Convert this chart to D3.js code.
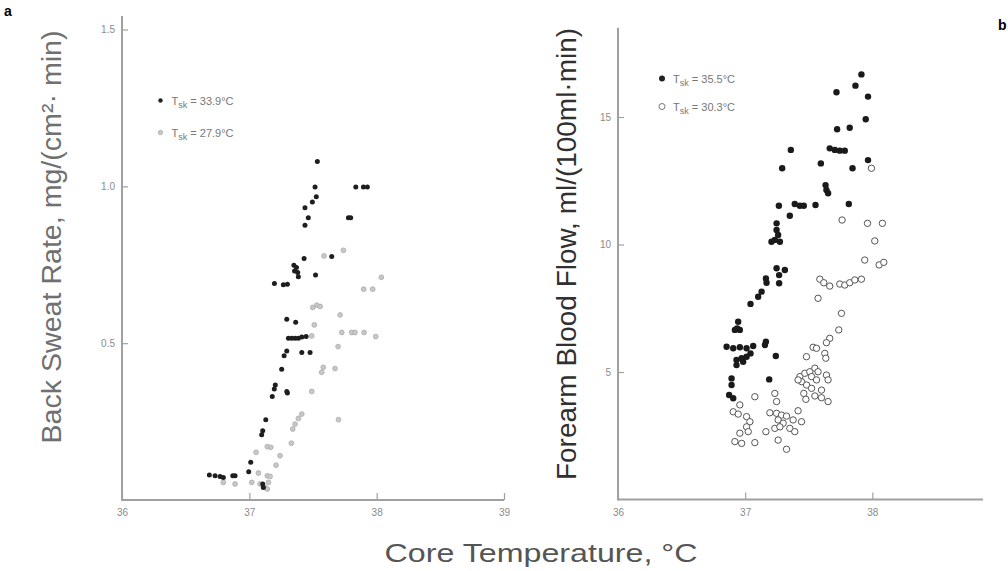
<!DOCTYPE html>
<html><head><meta charset="utf-8">
<script src="https://cdn.jsdelivr.net/npm/d3@7"></script>
<style>body{margin:0;background:#fff}svg{display:block}</style>
</head><body>
<svg id="c" width="1008" height="571"></svg>
<script>
// Panel a: back sweat rate vs core temperature
const aTicksX = [36, 37, 38, 39];
const aTicksY = [0.5, 1.0, 1.5];
const aTickLabelsY = ["0.5", "1.0", "1.5"];
const aLegend = ["33.9°C", "27.9°C"];
// T_sk = 33.9°C (filled black)  [core temp, sweat rate]
const aHot = [
 [37.534,1.079],[37.516,0.998],[37.836,0.998],[37.896,0.998],[37.927,0.998],[37.526,0.967],[37.495,0.95],
 [37.437,0.932],[37.463,0.90],[37.778,0.90],[37.796,0.90],[37.437,0.876],[37.43,0.77],[37.647,0.776],
 [37.35,0.748],[37.37,0.741],[37.355,0.730],[37.38,0.725],[37.385,0.712],[37.52,0.717],
 [37.197,0.690],[37.267,0.686],[37.299,0.688],[37.294,0.576],[37.364,0.567],
 [37.307,0.516],[37.333,0.516],[37.359,0.516],[37.385,0.516],[37.412,0.52],[37.446,0.521],
 [37.294,0.475],[37.273,0.46],[37.412,0.47],[37.477,0.47],[37.254,0.417],
 [37.204,0.367],[37.196,0.354],[37.18,0.33],[37.294,0.346],[37.299,0.341],
 [37.129,0.256],[37.105,0.221],[37.097,0.208],[37.011,0.12],[36.995,0.09],
 [36.686,0.08],[36.731,0.077],[36.770,0.075],[36.796,0.072],[36.870,0.077],[36.888,0.077],
 [37.105,0.051],[37.11,0.04]
];
// T_sk = 27.9°C (grey)
const aCool = [
 [37.739,0.796],[37.587,0.778],[38.037,0.71],[37.898,0.672],[37.969,0.672],
 [37.498,0.614],[37.53,0.621],[37.556,0.617],[37.713,0.59],[37.51,0.558],
 [37.726,0.534],[37.804,0.534],[37.83,0.534],[37.901,0.534],[37.993,0.521],[37.49,0.523],
 [37.697,0.489],[37.581,0.423],[37.568,0.407],[37.673,0.419],[37.49,0.346],
 [37.412,0.274],[37.385,0.26],[37.359,0.242],[37.341,0.226],[37.7,0.256],[37.33,0.181],
 [37.053,0.152],[37.141,0.17],[37.168,0.168],[37.241,0.141],[37.21,0.111],
 [37.071,0.086],[37.141,0.077],[36.796,0.056],[36.888,0.051],[37.019,0.056],[37.084,0.051],
 [37.123,0.04],[37.141,0.035],[37.163,0.075],[37.15,0.056]
];

// Panel b: forearm blood flow vs core temperature
const bTicksX = [36, 37, 38];
const bTicksY = [5, 10, 15];
const bLegend = ["35.5°C", "30.3°C"];
// T_sk = 35.5°C (filled)
const bHot = [
 [37.914,16.67],[37.867,16.23],[37.718,15.97],[37.966,15.80],[37.948,14.91],[37.723,14.52],[37.822,14.58],
 [37.359,13.71],[37.665,13.77],[37.705,13.71],[37.744,13.68],[37.783,13.68],[37.291,12.99],[37.595,13.18],
 [37.844,12.99],[37.966,13.31],[37.632,12.33],[37.639,12.14],[37.652,12.01],[37.265,11.52],[37.390,11.59],
 [37.430,11.52],[37.461,11.52],[37.553,11.55],[37.815,11.59],[37.351,11.13],[37.247,10.83],[37.247,10.57],
 [37.259,10.37],[37.207,10.11],[37.233,10.18],[37.273,10.11],[37.247,9.07],[37.312,9.00],[37.267,8.80],
 [37.163,8.67],[37.267,8.48],[37.168,8.50],[37.129,8.15],[37.102,7.95],[37.042,7.67],[36.945,6.97],
 [36.937,6.71],[36.958,6.65],[36.919,6.65],[36.854,5.99],[36.906,5.93],[36.958,5.97],[37.011,5.93],
 [37.063,6.02],[37.163,6.19],[37.155,6.06],[36.932,5.47],[36.972,5.54],[37.011,5.60],[37.042,5.73],
 [36.932,5.27],[36.984,5.40],[37.241,5.63],[36.893,4.75],[36.893,4.49],[36.874,4.10],[36.906,3.97],
 [37.189,4.71]
];
// T_sk = 30.3°C (open)
const bCool = [
 [37.993,12.99],[37.762,10.96],[37.962,10.83],[38.079,10.83],[38.019,10.14],[37.940,9.39],[38.053,9.20],
 [38.090,9.30],[37.587,8.64],[37.618,8.50],[37.665,8.37],[37.744,8.45],[37.783,8.41],[37.822,8.50],
 [37.862,8.61],[37.914,8.64],[37.573,7.89],[37.757,7.30],[37.736,6.65],[37.665,6.32],[37.639,6.15],
 [37.534,5.97],[37.561,5.93],[37.482,5.60],[37.626,5.73],[37.634,5.54],
 [37.430,4.82],[37.469,4.95],[37.508,5.01],[37.548,5.15],[37.573,5.01],[37.522,4.82],[37.561,4.69],
 [37.639,4.88],[37.652,4.69],[37.444,4.62],[37.483,4.49],[37.522,4.36],[37.600,4.29],[37.461,4.16],
 [37.548,4.06],[37.600,3.99],[37.652,3.84],[37.477,3.93],[37.416,4.69],
 [37.076,4.03],[37.233,4.16],[37.247,3.84],[36.958,3.71],[36.906,3.44],[36.945,3.35],[37.011,3.25],
 [37.037,3.05],[37.011,2.85],[36.958,2.60],[37.024,2.66],[36.919,2.27],[36.972,2.20],[37.076,2.23],
 [37.163,2.66],[37.194,3.40],[37.247,3.38],[37.286,3.31],[37.325,3.27],[37.259,3.12],[37.299,2.99],
 [37.377,3.12],[37.233,2.79],[37.273,2.85],[37.351,2.79],[37.390,2.66],[37.416,3.48],[37.443,3.05],
 [37.259,2.33],[37.325,1.97]
];

const svg = d3.select("#c");
const axisCol = "#a0a0a0", tickTxt = "#8a8a8a";
const tickFont = "'Liberation Sans Narrow','Liberation Sans',Arial,sans-serif";
const titleFont = "'Liberation Sans',Arial,sans-serif";

function panel(opt) {
  const x = d3.scaleLinear().domain(opt.xDom).range(opt.xRange);
  const y = d3.scaleLinear().domain(opt.yDom).range(opt.yRange);
  const g = svg.append("g");
  const ya = g.append("g").attr("transform", `translate(${opt.xRange[0]},0)`)
    .call(d3.axisRight(y).tickValues(opt.yTicks).tickSize(6).tickFormat((d,i)=>opt.yLabels[i]));
  ya.select(".domain").remove();
  ya.selectAll(".tick line").attr("stroke", axisCol).attr("stroke-width", 1.2);
  ya.selectAll(".tick text").attr("x", -7).attr("text-anchor", "end")
    .attr("fill", tickTxt).style("font-family", tickFont).style("font-size", "10px");
  const xa = g.append("g").attr("transform", `translate(0,${opt.yRange[0]})`)
    .call(d3.axisTop(x).tickValues(opt.xTicks).tickSize(7).tickFormat(d3.format("d")));
  xa.select(".domain").remove();
  xa.selectAll(".tick line").attr("stroke", axisCol).attr("stroke-width", 1.2);
  xa.selectAll(".tick text").attr("y", 16).attr("dy", "0").attr("fill", tickTxt)
    .style("font-family", tickFont).style("font-size", "10px");
  g.append("line").attr("x1", opt.xRange[0]).attr("x2", opt.xRange[0])
    .attr("y1", opt.yRange[0] + 1).attr("y2", y(opt.yDom[1]))
    .attr("stroke", axisCol).attr("stroke-width", 2);
  g.append("line").attr("x1", opt.xRange[0]).attr("x2", x(opt.xDom[1]))
    .attr("y1", opt.yRange[0]).attr("y2", opt.yRange[0])
    .attr("stroke", axisCol).attr("stroke-width", 2);
  return {g, x, y};
}

// Panel a
const A = panel({xDom:[36,39], xRange:[122,504], yDom:[0,1.543], yRange:[500,16],
  xTicks:aTicksX, yTicks:aTicksY, yLabels:aTickLabelsY});
A.g.selectAll("circle.cool").data(aCool).join("circle")
  .attr("cx", d=>A.x(d[0])).attr("cy", d=>A.y(d[1])).attr("r", 2.4)
  .attr("fill", "#c8c8c8").attr("stroke", "#aaa").attr("stroke-width", 0.8);
A.g.selectAll("circle.hot").data(aHot).join("circle")
  .attr("cx", d=>A.x(d[0])).attr("cy", d=>A.y(d[1])).attr("r", 2.5)
  .attr("fill", "#1e1e1e");

// Panel b
const B = panel({xDom:[36,38.87], xRange:[618,983], yDom:[0,18.5], yRange:[499.5,27.75],
  xTicks:bTicksX, yTicks:bTicksY, yLabels:bTicksY.map(String)});
B.g.selectAll("circle.cool").data(bCool).join("circle")
  .attr("cx", d=>B.x(d[0])).attr("cy", d=>B.y(d[1])).attr("r", 3.2)
  .attr("fill", "#fff").attr("stroke", "#555").attr("stroke-width", 1);
B.g.selectAll("circle.hot").data(bHot).join("circle")
  .attr("cx", d=>B.x(d[0])).attr("cy", d=>B.y(d[1])).attr("r", 3.2)
  .attr("fill", "#1a1a1a");

// Legends
function legend(x0, y0, dy, labels, markers) {
  labels.forEach((lab, i) => {
    const yy = y0 + i * dy;
    const m = markers[i];
    svg.append("circle").attr("cx", x0).attr("cy", yy).attr("r", m.r)
      .attr("fill", m.fill).attr("stroke", m.stroke).attr("stroke-width", m.sw);
    const t = svg.append("text").attr("x", x0 + 11).attr("y", yy + 4)
      .attr("fill", "#777").style("font-family", tickFont).style("font-size", "11px");
    t.append("tspan").text("T");
    t.append("tspan").attr("dy", 3).style("font-size", "9px").text("sk");
    t.append("tspan").attr("dy", -3).text(" = " + lab);
  });
}
legend(160.5, 100.5, 32, aLegend, [
  {r:2.2, fill:"#222", stroke:"none", sw:0},
  {r:2.2, fill:"#c8c8c8", stroke:"#aaa", sw:0.8}]);
legend(662, 78.5, 28, bLegend, [
  {r:3, fill:"#222", stroke:"none", sw:0},
  {r:3, fill:"#fff", stroke:"#777", sw:1}]);

// Axis titles
svg.append("text").attr("transform", "translate(61,237) rotate(-90)")
  .attr("text-anchor", "middle").attr("fill", "#707070")
  .attr("textLength", 413).attr("lengthAdjust", "spacingAndGlyphs")
  .style("font-family", titleFont).style("font-size", "27px")
  .text("Back Sweat Rate, mg/(cm²· min)");
svg.append("text").attr("transform", "translate(576,254) rotate(-90)")
  .attr("text-anchor", "middle").attr("fill", "#303030")
  .attr("textLength", 452).attr("lengthAdjust", "spacingAndGlyphs")
  .style("font-family", titleFont).style("font-size", "27px")
  .text("Forearm Blood Flow, ml/(100ml·min)");
svg.append("text").attr("x", 541).attr("y", 562)
  .attr("text-anchor", "middle").attr("fill", "#555")
  .attr("textLength", 313).attr("lengthAdjust", "spacingAndGlyphs")
  .style("font-family", titleFont).style("font-size", "26px")
  .text("Core Temperature, °C");

// Panel letters
svg.append("text").attr("x", 4).attr("y", 16).attr("fill", "#000")
  .style("font-family", titleFont).style("font-size", "14px").style("font-weight", "bold").text("a");
svg.append("text").attr("x", 998).attr("y", 30).attr("fill", "#000")
  .style("font-family", titleFont).style("font-size", "14px").style("font-weight", "bold").text("b");
</script>
</body></html>
